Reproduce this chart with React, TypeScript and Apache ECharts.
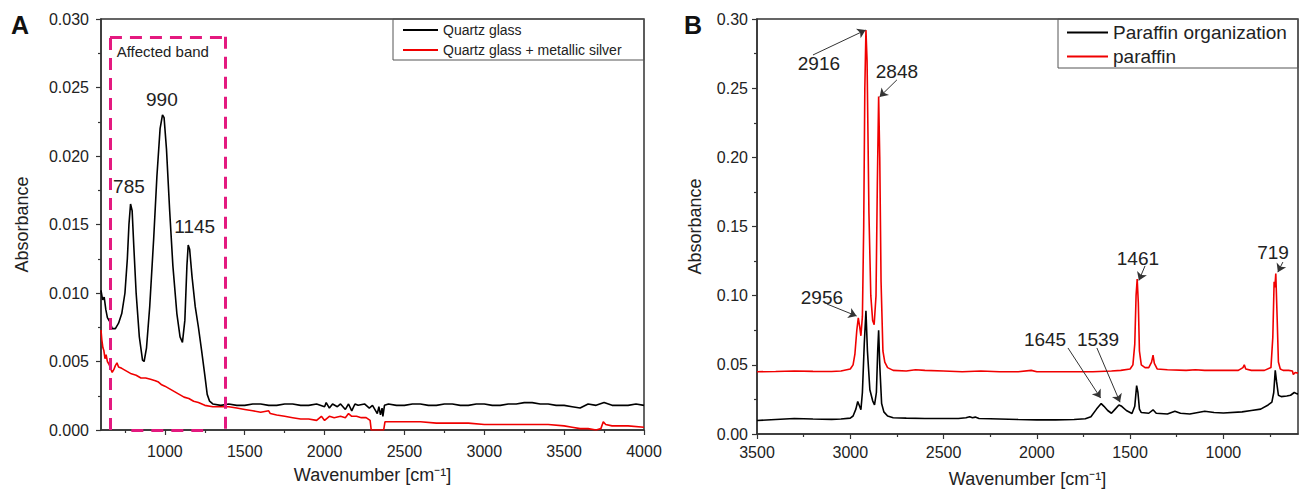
import React, { useEffect, useRef } from "react";
import * as echarts from "echarts";

const FONT = "'Liberation Sans', Arial, Helvetica, sans-serif";

// ---------- Panel A data ----------
const quartzGlass: [number, number][] = [
  [600, 0.0102], [610, 0.0095], [620, 0.0097], [630, 0.0088], [640, 0.0082], [650, 0.0080],
  [660, 0.0078], [670, 0.0074], [690, 0.0074], [710, 0.0078], [730, 0.0085], [750, 0.0100],
  [765, 0.0125], [775, 0.0150], [785, 0.0165], [795, 0.0160], [805, 0.0135], [820, 0.0100],
  [840, 0.0068], [860, 0.0051], [870, 0.0050], [885, 0.0060], [905, 0.0090], [930, 0.0140],
  [950, 0.0185], [970, 0.0220], [985, 0.0230], [995, 0.0228], [1010, 0.0205], [1030, 0.0160],
  [1050, 0.0120], [1075, 0.0085], [1095, 0.0068], [1110, 0.0064], [1125, 0.0080], [1138, 0.0120],
  [1146, 0.0135], [1155, 0.0132], [1170, 0.0112], [1190, 0.0090], [1210, 0.0075], [1230, 0.0058],
  [1250, 0.0040], [1265, 0.0026], [1280, 0.0021], [1300, 0.0019], [1350, 0.0018], [1400, 0.0019],
  [1450, 0.0018], [1500, 0.0018], [1550, 0.0019], [1600, 0.0019], [1650, 0.0018], [1700, 0.0018],
  [1750, 0.0019], [1800, 0.0019], [1850, 0.0018], [1900, 0.0018], [1950, 0.0019], [2000, 0.0017],
  [2010, 0.0020], [2030, 0.0016], [2050, 0.0019], [2080, 0.0017], [2100, 0.0019], [2130, 0.0015],
  [2150, 0.0019], [2170, 0.0014], [2190, 0.0019], [2210, 0.0018], [2250, 0.0019], [2280, 0.0016],
  [2300, 0.0018], [2330, 0.0012], [2340, 0.0017], [2350, 0.0011], [2360, 0.0016], [2365, 0.0010],
  [2375, 0.0018], [2400, 0.0019], [2450, 0.0018], [2500, 0.0018], [2550, 0.0019], [2600, 0.0019],
  [2650, 0.0018], [2700, 0.0018], [2750, 0.0019], [2800, 0.0019], [2850, 0.0018], [2900, 0.0018],
  [2950, 0.0019], [3000, 0.0019], [3050, 0.0018], [3100, 0.0018], [3150, 0.0019], [3200, 0.0019],
  [3250, 0.0020], [3300, 0.0020], [3350, 0.0019], [3400, 0.0019], [3450, 0.0018], [3500, 0.0018],
  [3550, 0.0017], [3600, 0.0016], [3650, 0.0019], [3700, 0.0018], [3750, 0.0020], [3800, 0.0018],
  [3850, 0.0018], [3900, 0.0018], [3950, 0.0019], [4000, 0.0018],
];

const quartzSilver: [number, number][] = [
  [600, 0.0073], [605, 0.0066], [612, 0.0060], [618, 0.0058], [625, 0.0052], [632, 0.0055],
  [640, 0.0050], [650, 0.0048], [660, 0.0045], [670, 0.0042], [680, 0.0044], [690, 0.0047],
  [700, 0.0049], [710, 0.0046], [730, 0.0045], [760, 0.0043], [790, 0.0041], [820, 0.0040],
  [850, 0.0038], [880, 0.0038], [910, 0.0037], [940, 0.0036], [960, 0.0035], [980, 0.0033],
  [1000, 0.0032], [1030, 0.0030], [1060, 0.0028], [1090, 0.0026], [1120, 0.0024], [1150, 0.0023],
  [1180, 0.0021], [1210, 0.0020], [1250, 0.0018], [1300, 0.0017], [1350, 0.0017], [1400, 0.0017],
  [1450, 0.0016], [1500, 0.0015], [1550, 0.0014], [1600, 0.0013], [1650, 0.0014], [1660, 0.0012],
  [1700, 0.0011], [1750, 0.0010], [1800, 0.0009], [1850, 0.0008], [1900, 0.0008], [1950, 0.0007],
  [1980, 0.0010], [2000, 0.0007], [2030, 0.0010], [2060, 0.0009], [2100, 0.0010], [2130, 0.0009],
  [2150, 0.0012], [2170, 0.0010], [2200, 0.0010], [2230, 0.0009], [2260, 0.0009], [2285, 0.0007],
  [2292, 0.0000], [2370, 0.0000], [2378, 0.0006], [2400, 0.0006], [2500, 0.0006], [2600, 0.0006],
  [2700, 0.0005], [2800, 0.0005], [2900, 0.0005], [3000, 0.0004], [3100, 0.0004], [3200, 0.0004],
  [3300, 0.0004], [3400, 0.0004], [3500, 0.0003], [3550, 0.0002], [3600, 0.0001], [3650, 0.0001],
  [3700, 0.0000], [3730, 0.0001], [3745, 0.0006], [3760, 0.0004], [3800, 0.0003], [3900, 0.0003],
  [4000, 0.0002],
];

const peakLabelsA: { name: string; coord: [number, number] }[] = [
  { name: "785", coord: [775, 0.01774] },
  { name: "990", coord: [981, 0.0241] },
  { name: "1145", coord: [1187, 0.01482] },
];

// Affected band box (data coordinates)
const bandLeft = 656;
const bandRight = 1375;
const bandTop = 0.0287;
const bandBottomFrom = 790;
const bandBottomTo = 1240;

// ---------- Panel B data ----------
const paraffinOrg: [number, number][] = [
  [3500, 0.0098], [3400, 0.0105], [3300, 0.0112], [3200, 0.0108], [3100, 0.0106], [3050, 0.0108],
  [3000, 0.0115], [2985, 0.013], [2970, 0.018], [2960, 0.0235], [2950, 0.020], [2943, 0.0175],
  [2935, 0.030], [2925, 0.065], [2916, 0.089], [2908, 0.060], [2895, 0.032], [2880, 0.024],
  [2870, 0.021], [2860, 0.030], [2853, 0.060], [2848, 0.075], [2842, 0.050], [2832, 0.022],
  [2820, 0.016], [2800, 0.013], [2770, 0.0118], [2700, 0.0115], [2600, 0.0112], [2500, 0.0112],
  [2420, 0.0112], [2380, 0.0118], [2360, 0.0125], [2345, 0.0118], [2330, 0.0122], [2310, 0.0112],
  [2250, 0.0110], [2100, 0.0105], [2000, 0.0102], [1900, 0.0102], [1800, 0.0105], [1740, 0.0110],
  [1710, 0.0125], [1680, 0.018], [1655, 0.022], [1640, 0.020], [1620, 0.017], [1600, 0.015],
  [1580, 0.018], [1560, 0.021], [1545, 0.020], [1520, 0.017], [1490, 0.0148], [1475, 0.020],
  [1465, 0.035], [1458, 0.030], [1450, 0.018], [1440, 0.0155], [1400, 0.015], [1377, 0.0175],
  [1360, 0.015], [1300, 0.0145], [1260, 0.0165], [1230, 0.015], [1180, 0.0145], [1100, 0.0165],
  [1050, 0.0155], [1000, 0.0152], [900, 0.016], [850, 0.017], [800, 0.018], [760, 0.021],
  [740, 0.023], [730, 0.030], [722, 0.046], [715, 0.038], [705, 0.028], [690, 0.027],
  [660, 0.0275], [640, 0.028], [620, 0.030], [605, 0.029], [600, 0.029],
];

const paraffin: [number, number][] = [
  [3500, 0.045], [3400, 0.0452], [3300, 0.0455], [3200, 0.0453], [3100, 0.0452], [3050, 0.0455],
  [3000, 0.047], [2985, 0.050], [2975, 0.058], [2965, 0.075], [2957, 0.084], [2950, 0.078],
  [2943, 0.071], [2935, 0.085], [2928, 0.150], [2922, 0.250], [2916, 0.292], [2910, 0.270],
  [2900, 0.160], [2890, 0.100], [2880, 0.082], [2872, 0.079], [2862, 0.100], [2855, 0.180],
  [2848, 0.244], [2842, 0.200], [2835, 0.110], [2825, 0.060], [2815, 0.052], [2800, 0.048],
  [2770, 0.046], [2700, 0.0455], [2650, 0.0465], [2600, 0.046], [2500, 0.0455], [2400, 0.045],
  [2300, 0.0455], [2200, 0.045], [2100, 0.045], [2030, 0.046], [2000, 0.045], [1900, 0.045],
  [1800, 0.045], [1700, 0.045], [1600, 0.0455], [1550, 0.046], [1500, 0.047], [1485, 0.050],
  [1475, 0.065], [1468, 0.100], [1462, 0.112], [1456, 0.095], [1450, 0.060], [1440, 0.050],
  [1420, 0.048], [1400, 0.048], [1385, 0.052], [1377, 0.057], [1370, 0.051], [1355, 0.047],
  [1300, 0.0465], [1200, 0.046], [1150, 0.0465], [1100, 0.046], [1000, 0.046], [920, 0.046],
  [895, 0.048], [888, 0.050], [880, 0.047], [850, 0.046], [780, 0.046], [745, 0.048],
  [735, 0.070], [728, 0.110], [724, 0.106], [719, 0.116], [712, 0.085], [705, 0.052],
  [695, 0.047], [680, 0.046], [650, 0.046], [630, 0.0455], [625, 0.043], [615, 0.0445],
  [600, 0.044],
];

const peakLabelsB: { name: string; coord: [number, number] }[] = [
  { name: "2916", coord: [3168, 0.2675] },
  { name: "2848", coord: [2750, 0.2617] },
  { name: "2956", coord: [3152, 0.099] },
  { name: "1645", coord: [1956, 0.068] },
  { name: "1539", coord: [1672, 0.068] },
  { name: "1461", coord: [1458, 0.127] },
  { name: "719", coord: [734, 0.131] },
];

const peakArrowsB: [[number, number], [number, number]][] = [
  [[3200, 0.274], [2918, 0.292]],
  [[2750, 0.256], [2843, 0.2437]],
  [[3126, 0.094], [2966, 0.0853]],
  [[1833, 0.0622], [1658, 0.026]],
  [[1678, 0.0622], [1554, 0.023]],
  [[1420, 0.1215], [1453, 0.111]],
  [[681, 0.1243], [708, 0.117]],
];

// ---------- Tick values ----------
const xTicksA = [1000, 1500, 2000, 2500, 3000, 3500, 4000];
const xMinorA = [750, 1250, 1750, 2250, 2750, 3250, 3750];
const xTicksB = [1000, 1500, 2000, 2500, 3000, 3500];
const xMinorB = [750, 1250, 1750, 2250, 2750, 3250];

export default function App() {
  const ref = useRef<HTMLDivElement>(null);

  useEffect(() => {
    const chart = echarts.init(ref.current!, null, { renderer: "svg" });
    const axisColor = "#333";
    const textColor = "#222";

    const makeX = (
      gridIndex: number,
      min: number,
      max: number,
      inverse: boolean,
      ticks: number[],
      minor: number[],
      margin: number
    ) => [
      {
        type: "value",
        gridIndex,
        min,
        max,
        inverse,
        position: "bottom",
        name: "Wavenumber [cm\u207B\u00B9]",
        nameLocation: "middle",
        nameGap: 36,
        nameTextStyle: { fontSize: 18, color: textColor, fontFamily: FONT },
        axisLine: { show: true, lineStyle: { color: axisColor, width: 1.5 } },
        axisTick: { show: true, inside: false, length: 5, customValues: ticks, lineStyle: { color: axisColor, width: 1.2 } },
        axisLabel: {
          show: true,
          customValues: ticks,
          margin,
          fontSize: 16,
          color: textColor,
          fontFamily: FONT,
          formatter: (v: number) => String(v),
        },
        splitLine: { show: false },
      },
      {
        type: "value",
        gridIndex,
        min,
        max,
        inverse,
        position: "bottom",
        axisLine: { show: false },
        axisTick: { show: true, inside: false, length: 3, customValues: minor, lineStyle: { color: axisColor, width: 1.2 } },
        axisLabel: { show: false },
        splitLine: { show: false },
      },
    ];

    const makeY = (gridIndex: number, max: number, interval: number, digits: number, margin: number, nameGap: number) => ({
      type: "value",
      gridIndex,
      min: 0,
      max,
      interval,
      name: "Absorbance",
      nameLocation: "middle",
      nameGap,
      nameRotate: 90,
      nameTextStyle: { fontSize: 18, color: textColor, fontFamily: FONT },
      axisLine: { show: true, lineStyle: { color: axisColor, width: 1.5 } },
      axisTick: { show: true, inside: false, length: 5, lineStyle: { color: axisColor, width: 1.2 } },
      minorTick: { show: true, splitNumber: 2, length: 3, lineStyle: { color: axisColor, width: 1.2 } },
      axisLabel: {
        margin,
        fontSize: 16,
        color: textColor,
        fontFamily: FONT,
        formatter: (v: number) => v.toFixed(digits),
      },
      splitLine: { show: false },
      minorSplitLine: { show: false },
    });

    const labelPoints = (items: { name: string; coord: [number, number] }[]) => ({
      silent: true,
      symbol: "circle",
      symbolSize: 0,
      itemStyle: { color: "rgba(0,0,0,0)" },
      label: {
        show: true,
        position: "inside",
        formatter: "{b}",
        fontSize: 19,
        color: textColor,
        fontFamily: FONT,
      },
      data: items.map((d) => ({ name: d.name, coord: d.coord })),
    });

    const bandStyle = { color: "#e4197f", width: 3, type: [12, 8] as any };

    const option: any = {
      animation: false,
      backgroundColor: "#fff",
      textStyle: { fontFamily: FONT },
      grid: [
        { left: 101, top: 19, width: 543, height: 411, show: true, borderColor: axisColor, borderWidth: 1.5, backgroundColor: "transparent" },
        { left: 757, top: 19, width: 541, height: 415, show: true, borderColor: axisColor, borderWidth: 1.5, backgroundColor: "transparent" },
      ],
      xAxis: [
        ...makeX(0, 600, 4000, false, xTicksA, xMinorA, 13),
        ...makeX(1, 600, 3500, true, xTicksB, xMinorB, 10),
      ],
      yAxis: [makeY(0, 0.03, 0.005, 3, 12, 70), makeY(1, 0.3, 0.05, 2, 9, 53)],
      legend: [
        {
          data: ["Quartz glass", "Quartz glass + metallic silver"],
          orient: "vertical",
          left: 403,
          top: 21,
          padding: 0,
          itemGap: 2,
          itemWidth: 35,
          itemHeight: 2,
          icon: "rect",
          selectedMode: false,
          textStyle: { fontSize: 14, lineHeight: 18, color: textColor, fontFamily: FONT },
        },
        {
          data: ["Paraffin organization", "paraffin"],
          orient: "vertical",
          left: 1067,
          top: 21,
          padding: 0,
          itemGap: 1,
          itemWidth: 41,
          itemHeight: 2,
          icon: "rect",
          selectedMode: false,
          textStyle: { fontSize: 19, lineHeight: 23, color: textColor, fontFamily: FONT },
        },
      ],
      graphic: [
        { type: "rect", shape: { x: 393, y: 19, width: 251, height: 41 }, style: { fill: "none", stroke: "#555", lineWidth: 1 }, silent: true },
        { type: "rect", shape: { x: 1058, y: 19, width: 240, height: 49 }, style: { fill: "none", stroke: "#555", lineWidth: 1 }, silent: true },
        { type: "text", x: 11, y: 12, style: { text: "A", fontSize: 25, fontWeight: "bold", fill: "#111", fontFamily: FONT } },
        { type: "text", x: 684, y: 12, style: { text: "B", fontSize: 25, fontWeight: "bold", fill: "#111", fontFamily: FONT } },
      ],
      series: [
        {
          name: "Quartz glass",
          type: "line",
          xAxisIndex: 0,
          yAxisIndex: 0,
          data: quartzGlass,
          symbol: "none",
          showSymbol: false,
          color: "#000",
          lineStyle: { color: "#000", width: 1.6 },
          markPoint: labelPoints(peakLabelsA),
          z: 3,
        },
        {
          name: "Quartz glass + metallic silver",
          type: "line",
          xAxisIndex: 0,
          yAxisIndex: 0,
          data: quartzSilver,
          symbol: "none",
          showSymbol: false,
          color: "#f00000",
          lineStyle: { color: "#f00000", width: 1.6 },
          markLine: {
            silent: true,
            symbol: ["none", "none"],
            label: { show: false },
            lineStyle: bandStyle,
            data: [
              [{ coord: [bandLeft, 0] }, { coord: [bandLeft, bandTop] }],
              [{ coord: [bandLeft, bandTop] }, { coord: [bandRight, bandTop] }],
              [{ coord: [bandRight, bandTop] }, { coord: [bandRight, 0] }],
              [{ coord: [bandBottomFrom, 0] }, { coord: [bandBottomTo, 0] }],
            ],
          },
          markPoint: {
            silent: true,
            symbol: "circle",
            symbolSize: 0,
            itemStyle: { color: "rgba(0,0,0,0)" },
            label: { show: true, position: "inside", formatter: "{b}", fontSize: 15, color: textColor, fontFamily: FONT },
            data: [{ name: "Affected band", coord: [987, 0.02766] }],
          },
          z: 2,
        },
        {
          name: "Paraffin organization",
          type: "line",
          xAxisIndex: 2,
          yAxisIndex: 1,
          data: paraffinOrg,
          symbol: "none",
          showSymbol: false,
          color: "#000",
          lineStyle: { color: "#000", width: 1.6 },
        },
        {
          name: "paraffin",
          type: "line",
          xAxisIndex: 2,
          yAxisIndex: 1,
          data: paraffin,
          symbol: "none",
          showSymbol: false,
          color: "#f00000",
          lineStyle: { color: "#f00000", width: 1.6 },
          markLine: {
            silent: true,
            symbol: ["none", "arrow"],
            symbolSize: 8,
            label: { show: false },
            lineStyle: { color: "#333", width: 1, type: "solid" },
            data: peakArrowsB.map(([a, b]) => [{ coord: a }, { coord: b }]),
          },
          markPoint: labelPoints(peakLabelsB),
        },
      ],
    };

    chart.setOption(option);
    return () => chart.dispose();
  }, []);

  return (
    <div
      ref={ref}
      style={{ position: "absolute", left: 0, top: 0, width: 1305, height: 495, background: "#fff" }}
    />
  );
}
